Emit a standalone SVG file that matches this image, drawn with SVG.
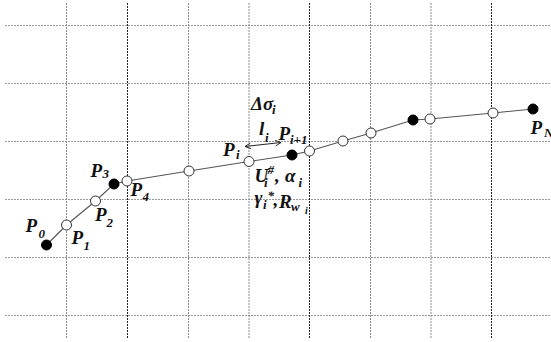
<svg xmlns="http://www.w3.org/2000/svg" width="551" height="342" viewBox="0 0 551 342">
<style>
.gv{stroke:#8a8a8a;stroke-width:1;stroke-dasharray:2 1;fill:none}
.gd{stroke:#222;stroke-width:1;stroke-dasharray:2 1;fill:none}
.gh{stroke:#999;stroke-width:1;stroke-dasharray:2 1;fill:none}
.ln{stroke:#555;stroke-width:1.1;fill:none}
.op{fill:#fff;stroke:#333;stroke-width:1}
.fl{fill:#000;stroke:#000;stroke-width:1}
.t{font-family:"Liberation Serif",serif;font-weight:bold;font-style:italic;font-size:19px;fill:#111}
.s{font-size:13px}
.ss{font-size:10px}
</style>
<defs>
<marker id="ah" viewBox="0 0 10 10" refX="9" refY="5" markerWidth="7" markerHeight="7" orient="auto-start-reverse" markerUnits="userSpaceOnUse">
<path d="M1,1 L9,5 L1,9" fill="none" stroke="#222" stroke-width="1.3"/>
</marker>
</defs>
<g id="grid">
<line class="gh" x1="5" y1="25.5" x2="551" y2="25.5"/>
<line class="gh" x1="5" y1="83.5" x2="551" y2="83.5"/>
<line class="gh" x1="5" y1="141.5" x2="551" y2="141.5"/>
<line class="gh" x1="5" y1="199.5" x2="551" y2="199.5"/>
<line class="gh" x1="5" y1="257.5" x2="551" y2="257.5"/>
<line class="gh" x1="5" y1="315.5" x2="551" y2="315.5"/>
<line class="gv" x1="66.5" y1="3" x2="66.5" y2="339"/>
<line class="gd" x1="127.5" y1="3" x2="127.5" y2="339"/>
<line class="gv" x1="188.5" y1="3" x2="188.5" y2="339"/>
<line class="gv" x1="249" y1="3" x2="249" y2="339"/>
<line class="gd" x1="309.5" y1="3" x2="309.5" y2="339"/>
<line class="gv" x1="370.5" y1="3" x2="370.5" y2="339"/>
<line class="gv" x1="431" y1="3" x2="431" y2="339"/>
<line class="gd" x1="491.5" y1="3" x2="491.5" y2="339"/>
</g>
<g id="connectors">
<polyline class="ln" points="46.5,245 66.5,225 95.5,201 114,184 127,181 189,171 249,161.5 292,155 309.5,151 343,141 371,133 413,120 430,119 493,113 533,109"/>
<line x1="245" y1="146.5" x2="281" y2="142.5" stroke="#222" stroke-width="1" marker-start="url(#ah)" marker-end="url(#ah)"/>
</g>
<g id="P0"><circle class="fl" cx="46.5" cy="245" r="5"/><text class="t" x="25.5" y="232">P<tspan class="s" x="38.5" y="237.5">0</tspan></text></g>
<g id="P1"><circle class="op" cx="66.5" cy="225" r="5"/><text class="t" x="71.5" y="244">P<tspan class="s" x="83.5" y="249.5">1</tspan></text></g>
<g id="P2"><circle class="op" cx="95.5" cy="201" r="5"/><text class="t" x="95" y="221">P<tspan class="s" x="106.5" y="226.5">2</tspan></text></g>
<g id="P3"><circle class="fl" cx="114" cy="184" r="5"/><text class="t" x="90.5" y="177">P<tspan class="s" x="102.5" y="178">3</tspan></text></g>
<g id="P4"><circle class="op" cx="127" cy="181" r="5"/><text class="t" x="130.5" y="196">P<tspan class="s" x="142.5" y="200.5">4</tspan></text></g>
<g id="P5"><circle class="op" cx="189" cy="171" r="5"/></g>
<g id="Pi"><circle class="op" cx="249" cy="161.5" r="5"/><text class="t" x="223" y="156">P<tspan class="s" x="236" y="159">i</tspan></text></g>
<g id="Pb"><circle class="fl" cx="292" cy="155" r="5"/></g>
<g id="Pi1"><circle class="op" cx="309.5" cy="151" r="5"/><text class="t" x="278.5" y="139.5">P<tspan class="s" x="290" y="144">i+1</tspan></text></g>
<g id="P7"><circle class="op" cx="343" cy="141" r="5"/></g>
<g id="P8"><circle class="op" cx="371" cy="133" r="5"/></g>
<g id="P9"><circle class="fl" cx="413" cy="120" r="5"/></g>
<g id="P10"><circle class="op" cx="430" cy="119" r="5"/></g>
<g id="P11"><circle class="op" cx="493" cy="113" r="5"/></g>
<g id="PN"><circle class="fl" cx="533" cy="109" r="5"/><text class="t" x="530.5" y="133.5">P<tspan class="s" x="544" y="136.5">N</tspan></text></g>
<g id="labels">
<text class="t" x="251" y="110">Δσ<tspan class="s" x="272" y="114">i</tspan></text>
<text class="t" x="259" y="135">l<tspan class="s" x="265" y="141.5">i</tspan></text>
<text class="t" x="254.5" y="182">U<tspan class="s" x="264" y="187">i</tspan><tspan class="s" x="267.5" y="174">#</tspan><tspan x="275" y="182">,</tspan><tspan x="285" y="182">α</tspan><tspan class="s" x="298.5" y="187">i</tspan></text>
<text class="t" x="254.5" y="204">γ<tspan class="s" x="263" y="208.5">i</tspan><tspan class="s" x="267.5" y="200">*</tspan><tspan x="273.5" y="206">,</tspan><tspan x="279" y="208">R</tspan><tspan class="s" x="291" y="211">w</tspan><tspan class="ss" x="305" y="213.5">i</tspan></text>
</g>
</svg>
